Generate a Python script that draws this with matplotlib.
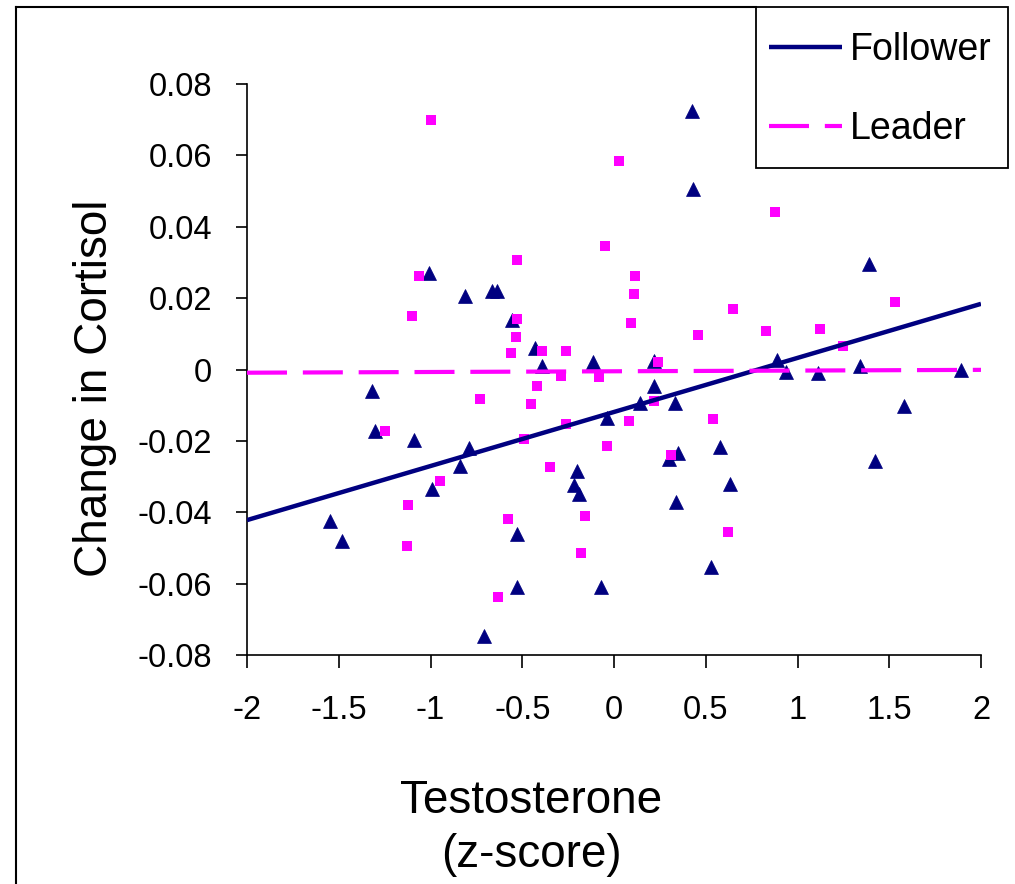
#!/usr/bin/env python3
"""
Change in cortisol vs testosterone (z-score), followers vs leaders,
with a linear trendline for each group.
"""
import numpy as np
import matplotlib
matplotlib.use("Agg")
import matplotlib.pyplot as plt
from matplotlib.lines import Line2D
from matplotlib.patches import Rectangle

plt.rcParams["font.family"] = ["Liberation Sans", "DejaVu Sans"]
plt.rcParams["axes.unicode_minus"] = False

# --- data ---------------------------------------------------------------------------------------
follower_x = [-1.55, -1.48, -1.32, -1.30, -1.09, -1.01, -0.99, -0.84, -0.81, -0.79,
              -0.71, -0.665, -0.64, -0.555, -0.53, -0.53, -0.43, -0.39, -0.22, -0.20,
              -0.19, -0.115, -0.07, -0.04, 0.14, 0.22, 0.22, 0.30, 0.33, 0.34,
              0.35, 0.425, 0.43, 0.53, 0.58, 0.63, 0.89, 0.94, 1.11, 1.34,
              1.39, 1.42, 1.58, 1.89]
follower_y = [-0.0425, -0.048, -0.0059, -0.0173, -0.0198, 0.027, -0.0335, -0.027, 0.0207, -0.022,
              -0.0746, 0.022, 0.022, 0.014, -0.046, -0.061, 0.0059, 0.0011, -0.0324, -0.0285,
              -0.035, 0.0022, -0.061, -0.0137, -0.0095, 0.0025, -0.0045, -0.025, -0.0095, -0.037,
              -0.0235, 0.0723, 0.0506, -0.0553, -0.0218, -0.032, 0.0028, -0.0008, -0.0011, 0.0011,
              0.0296, -0.0257, -0.0103, 0.0]

leader_x = [-1.25, -1.13, -1.12, -1.10, -1.06, -1.00, -0.95, -0.73, -0.63, -0.58,
            -0.56, -0.535, -0.53, -0.53, -0.49, -0.45, -0.42, -0.39, -0.35, -0.29,
            -0.26, -0.26, -0.18, -0.16, -0.08, -0.05, -0.04, 0.027, 0.08, 0.09,
            0.11, 0.115, 0.22, 0.24, 0.31, 0.46, 0.54, 0.62, 0.65, 0.83,
            0.88, 1.12, 1.25, 1.53]
leader_y = [-0.0173, -0.0494, -0.038, 0.0151, 0.0262, 0.0698, -0.0313, -0.0082, -0.0637, -0.0419,
            0.0047, 0.0092, 0.0142, 0.0307, -0.0196, -0.0098, -0.0045, 0.0053, -0.0272, -0.0017,
            0.0053, -0.0152, -0.0515, -0.041, -0.002, 0.0346, -0.0215, 0.0584, -0.0145, 0.0131,
            0.0212, 0.0262, -0.0087, 0.0022, -0.024, 0.0098, -0.014, -0.0455, 0.017, 0.0109,
            0.0441, 0.0114, 0.0067, 0.019]

# linear trendlines (slope, intercept)
follower_fit = (0.01515, -0.0119)
leader_fit = (0.0002, -0.0005)

x_ticks = [-2, -1.5, -1, -0.5, 0, 0.5, 1, 1.5, 2]
y_ticks = [-0.08, -0.06, -0.04, -0.02, 0, 0.02, 0.04, 0.06, 0.08]

NAVY = "#000080"
MAGENTA = "#FF00FF"

# --- figure -------------------------------------------------------------------------------------
W, H = 1015, 884
fig = plt.figure(figsize=(W / 100, H / 100), dpi=100)
ax = fig.add_axes([247 / W, 1 - 655 / H, (981 - 247) / W, (655 - 84) / H])

ax.plot(follower_x, follower_y, linestyle="none", marker="^", markersize=9.5,
        color=NAVY, markeredgewidth=0.5, zorder=3)
ax.plot(leader_x, leader_y, linestyle="none", marker="s", markersize=6.5,
        color=MAGENTA, markeredgewidth=0, zorder=3)

xx = np.array([-2, 2])
ax.plot(xx, follower_fit[0] * xx + follower_fit[1], color=NAVY, linewidth=3.2,
        label="Follower", zorder=4, solid_capstyle="butt")
ax.plot(xx, leader_fit[0] * xx + leader_fit[1], color=MAGENTA, linewidth=3,
        dashes=(9.6, 3.8), label="Leader", zorder=4)

ax.set_xlim(-2, 2)
ax.set_ylim(-0.08, 0.08)
ax.set_xticks(x_ticks)
ax.set_xticklabels([f"{v:g}" for v in x_ticks])
ax.set_yticks(y_ticks)
ax.set_yticklabels([f"{v:g}" for v in y_ticks])

for side in ("top", "right"):
    ax.spines[side].set_visible(False)
for side in ("left", "bottom"):
    ax.spines[side].set_linewidth(1.2)
ax.tick_params(axis="y", length=8, width=1.2, pad=17, labelsize=23.5)
ax.tick_params(axis="x", length=9, width=1.2, pad=20, labelsize=23.5)

fig.text(95 / W, 1 - 388 / H, "Change in Cortisol", rotation=90,
         ha="center", va="center", fontsize=33)
fig.text(531 / W, 1 - 828 / H, "Testosterone\n(z-score)", ha="center", va="center",
         fontsize=33, linespacing=1.27)

# legend entries without their own frame; the box is drawn separately below
fig.legend(loc="upper left", bbox_to_anchor=(769 / W, 1 - 32 / H), borderaxespad=0,
           fontsize=27, handlelength=1.95, handletextpad=0.2, borderpad=0,
           labelspacing=1.15, frameon=False)
fig.add_artist(Rectangle((756 / W, 1 - 168 / H), (1008 - 756) / W, (168 - 7) / H,
                         transform=fig.transFigure, facecolor="none",
                         edgecolor="black", linewidth=1.3, zorder=5))

# outer chart frame (top and left edges)
fig.add_artist(Line2D([16 / W, 756 / W], [1 - 7 / H, 1 - 7 / H], color="black", linewidth=1.5))
fig.add_artist(Line2D([16 / W, 16 / W], [1 - 7 / H, 0], color="black", linewidth=1.5))

fig.savefig("out.png", dpi=100, facecolor="white")
